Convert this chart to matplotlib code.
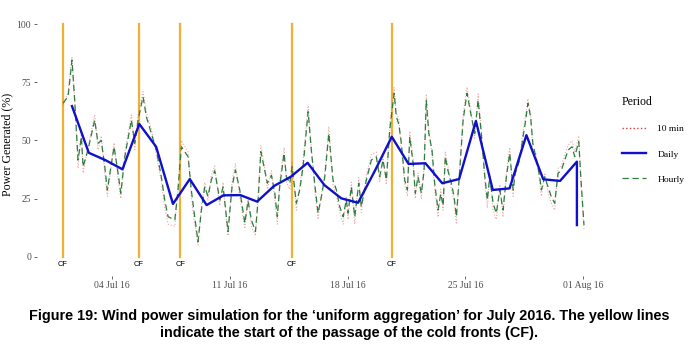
import numpy as np
import pandas as pd
import matplotlib
matplotlib.use("Agg")
import matplotlib.pyplot as plt
import matplotlib.dates as mdates

# 时间起点
start = pd.Timestamp("2016-07-01")

# Hourly series (days since 1 Jul 2016, % generated)
hourly_day = [0.09, 0.39, 0.62, 0.78, 0.98, 1.18, 1.28, 1.57, 1.97, 2.17,
              2.36, 2.57, 2.72, 3.12, 3.36, 3.52, 3.76, 4.15, 4.35, 4.55,
              4.84, 5.04, 5.34, 5.63, 5.93, 6.13, 6.33, 6.73, 6.92, 7.12,
              7.52, 7.71, 7.91, 8.11, 8.31, 8.51, 8.7, 8.9, 9.1, 9.4,
              9.6, 9.89, 10.13, 10.33, 10.59, 10.89, 11.08, 11.28, 11.52, 11.68,
              11.84, 12.03, 12.23, 12.47, 12.67, 12.82, 12.96, 13.22, 13.36, 13.56,
              13.7, 13.95, 14.15, 14.35, 14.65, 14.84, 15.04, 15.24, 15.44, 15.64,
              15.88, 16.13, 16.33, 16.53, 16.73, 16.92, 17.02, 17.22, 17.42, 17.66,
              17.81, 18.11, 18.41, 18.7, 18.9, 19.1, 19.3, 19.5, 19.76, 19.89,
              20.04, 20.19, 20.39, 20.55, 20.69, 20.89, 21.02, 21.18, 21.38, 21.54,
              21.67, 21.82, 22.01, 22.17, 22.37, 22.53, 22.67, 22.8, 22.96, 23.16,
              23.32, 23.46, 23.66, 23.86, 24.09, 24.35, 24.55, 24.75, 24.94, 25.15,
              25.3, 25.44, 25.64, 25.83, 26.04, 26.23, 26.43, 26.63, 26.83, 26.96,
              27.22, 27.42, 27.55, 27.71, 27.87, 28.0, 28.21, 28.41, 28.51, 28.71,
              28.9, 29.1, 29.3, 29.5, 29.7, 29.9, 30.1, 30.33, 30.49, 30.73,
              30.85, 31.04]
hourly_val = [66, 69, 84.6, 67.4, 41.6, 51.6, 38.7, 45.9, 58.8, 48.8,
              50, 38.7, 28.7, 47.3, 35.9, 27.3, 43, 58.8, 48.8, 58.8,
              68.8, 60.2, 53, 45.9, 34.4, 24.4, 17.2, 15.8, 28.7, 47.3,
              43, 28.7, 17.2, 6.5, 20.1, 30.1, 26, 33, 37, 24.4,
              30, 10.8, 30, 37.3, 28.7, 14.4, 24, 15.8, 10.8, 24.4,
              45.2, 38.7, 31.6, 35, 27.3, 17.2, 30, 44.5, 34.4, 31.6,
              38.7, 23, 28.7, 38.7, 62.4, 45.9, 31.6, 18.7, 25.8, 34.4,
              53, 33, 28.7, 21.5, 17.2, 24.4, 18.7, 30.1, 17.2, 31.6,
              21.5, 33, 41.6, 43, 34.4, 41.6, 33, 54.5, 70.3, 60.2,
              57, 48.8, 33, 28.7, 51.6, 40, 27.3, 34.4, 27.3, 37,
              67.4, 53, 45.9, 31.6, 20.1, 27, 22, 43, 37, 31.6,
              26, 17.2, 37.3, 58.8, 70.3, 60.2, 53, 67.4, 53, 34.4,
              24.4, 34.4, 23, 18.7, 28.7, 20.1, 34.4, 44.5, 28.7, 35.9,
              41.6, 51.6, 57.4, 66, 60.2, 48.8, 42, 34.4, 28.7, 34.4,
              30.1, 25.8, 23, 35.9, 37.3, 41.6, 45.9, 47.3, 43, 49.5,
              34.4, 13.6]

# 10 min series (same sample times, slightly wider swings)
tenmin_val = [65, 71, 86, 69, 38, 54, 36, 47, 61, 46,
              52, 36, 26, 49, 33, 25, 45, 61, 46, 61,
              71, 62, 55, 44, 32, 21, 14, 13, 30, 50,
              45, 26, 14, 5, 22, 32, 24, 35, 39, 22,
              32, 9, 32, 40, 26, 12, 26, 13, 9, 26,
              48, 40, 29, 37, 25, 14, 32, 47, 32, 29,
              41, 20, 30, 41, 65, 47, 29, 16, 27, 36,
              56, 31, 26, 19, 14, 26, 16, 32, 14, 34,
              19, 35, 44, 45, 32, 43, 31, 57, 73, 62,
              59, 46, 31, 26, 54, 42, 25, 36, 25, 39,
              70, 55, 44, 29, 17, 29, 20, 45, 39, 29,
              24, 14, 39, 61, 73, 62, 51, 70, 55, 32,
              21, 36, 20, 16, 31, 17, 36, 47, 26, 38,
              43, 54, 60, 68, 62, 46, 44, 32, 26, 36,
              28, 23, 20, 38, 39, 44, 48, 50, 45, 52,
              33, 12]

# Daily means (one per day, last value is the partial final day)
daily_day = [0.62 + i for i in range(31)] + [30.62]
daily_val = [64.8, 44.7, 41.5, 37.6, 57.1, 47.3, 22.7, 33.4, 22.2, 26.4,
             26.5, 23.7, 30.4, 34.4, 40.4, 30.8, 25.1, 23.2, 37.0, 51.6,
             39.9, 40.2, 31.6, 33.4, 58.4, 28.7, 29.4, 52.3, 33.3, 32.6,
             40.9, 13.6]

# Cold front start times (days since 1 Jul)
cf_day = [0.09, 4.6, 7.06, 13.7, 19.62]

x_hourly = start + pd.to_timedelta(hourly_day, unit="D")
x_daily = start + pd.to_timedelta(daily_day, unit="D")
x_cf = start + pd.to_timedelta(cf_day, unit="D")

serif = ["Liberation Serif", "DejaVu Serif"]

fig = plt.figure(figsize=(6.99, 3.52), dpi=100)
ax = fig.add_axes([0.0524, 0.217, 0.873 - 0.0524, 0.965 - 0.217])

# 冷锋线
for xc in x_cf:
    ax.plot([xc, xc], [0, 100], color="#F0B030", lw=1.6, zorder=1)
    ax.text(xc, -3.5, "CF", ha="center", va="center", fontsize=5.4,
            family=["Liberation Sans"], color="black")

l1, = ax.plot(x_hourly, tenmin_val, color="#E06060", lw=0.8, ls=":",
              alpha=0.55, zorder=2, label="10 min")
l3, = ax.plot(x_hourly, hourly_val, color="#2E7D3E", lw=0.9,
              dashes=(5, 3), zorder=3, label="Hourly")
l2, = ax.plot(x_daily, daily_val, color="#1010CC", lw=1.7, zorder=4,
              label="Daily")

ax.set_xlim(start - pd.Timedelta(days=1.48), start + pd.Timedelta(days=32.6))
ax.set_ylim(-8.15, 105.15)
ax.set_yticks([0, 25, 50, 75, 100])
ticks = [pd.Timestamp(t) for t in ["2016-07-04", "2016-07-11", "2016-07-18",
                                   "2016-07-25", "2016-08-01"]]
ax.set_xticks(ticks)
ax.xaxis.set_major_formatter(mdates.DateFormatter("%d %b %y"))

for s in ax.spines.values():
    s.set_visible(False)
ax.tick_params(axis="both", colors="#4D4D4D", length=2.5, width=0.6,
               labelsize=6.9, pad=1.5)
for lab in ax.get_xticklabels() + ax.get_yticklabels():
    lab.set_family(serif)
    lab.set_color("#4D4D4D")

ax.set_ylabel("Power Generated (%)", family=serif, fontsize=8.6, labelpad=2)

leg = ax.legend(handles=[l1, l2, l3], title="Period", loc="center left",
                bbox_to_anchor=(1.005, 0.515), frameon=False,
                prop={"family": serif, "size": 6.8}, handlelength=2.6,
                labelspacing=1.75, handletextpad=1.2)
leg.get_title().set_family(serif)
leg.get_title().set_fontsize(8.5)
leg._legend_box.align = "left"
lines = leg.get_lines()
lines[0].set_alpha(1)
lines[0].set_color("#D83C3C")
lines[0].set_linewidth(1.0)

fig.text(0.5, 1 - 316 / 352,
         "Figure 19: Wind power simulation for the \u2018uniform aggregation\u2019 for July 2016. The yellow lines",
         ha="center", va="center", fontsize=10.4, fontweight="bold",
         family=["Liberation Sans"])
fig.text(0.5, 1 - 333.5 / 352,
         "indicate the start of the passage of the cold fronts (CF).",
         ha="center", va="center", fontsize=10.4, fontweight="bold",
         family=["Liberation Sans"])

fig.savefig("out.png", dpi=100)
